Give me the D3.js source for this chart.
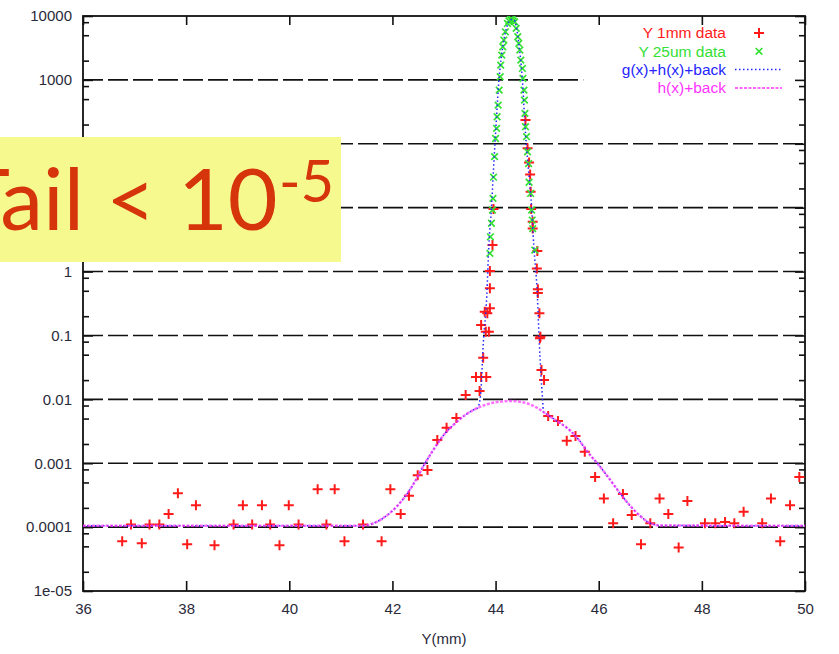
<!DOCTYPE html>
<meta charset="utf-8">
<style>
body { margin: 0; background: #fff; }
svg text { font-family: "Liberation Sans", Arial, sans-serif; }
.axis .domain { display: none; }
.axis line { stroke: #111; stroke-width: 1.6; }
.axis text { font-size: 15px; fill: #2a2a3a; }
</style>
<svg width="839" height="654"></svg>
<script src="https://d3js.org/d3.v7.min.js"></script>
<script>

// tick values and labels
var xTicks = [36, 38, 40, 42, 44, 46, 48, 50];
var yTicks = [1e-5, 1e-4, 1e-3, 1e-2, 1e-1, 1, 10, 100, 1000, 10000];
var yLabels = ["1e-05", "0.0001", "0.001", "0.01", "0.1", "1", "10", "100", "1000", "10000"];

// Y 1mm data (red +)
var redX = [36.76, 36.93, 37.14, 37.29, 37.48, 37.66, 37.84, 38.02, 38.19, 38.55, 38.92, 39.10, 39.28, 39.47, 39.63, 39.81, 39.99, 40.18,
  40.55, 40.72, 40.88, 41.07, 41.43, 41.79, 41.96, 42.16, 42.32, 42.49, 42.68, 42.87, 43.05, 43.24, 43.42, 43.62, 43.69, 43.72, 43.76,
  43.72, 43.79, 43.81, 43.82, 43.84, 43.87, 43.89, 43.89, 43.89, 43.94, 43.96,
  44.58, 44.62, 44.65, 44.67, 44.68, 44.69, 44.72, 44.72, 44.81, 44.80, 44.82, 44.82, 44.85, 44.87, 44.86, 44.89, 44.94,
  45.02, 45.21, 45.38, 45.55, 45.73, 45.93, 46.10, 46.28, 46.47, 46.64, 46.82, 47.00, 47.18, 47.35, 47.55, 47.72,
  48.06, 48.26, 48.45, 48.63, 48.81, 49.17, 49.34, 49.52, 49.71, 49.89];
var redY = [6.0e-5, 1.1e-4, 5.6e-5, 1.1e-4, 1.1e-4, 1.6e-4, 3.4e-4, 5.4e-5, 2.2e-4, 5.2e-5, 1.1e-4, 2.2e-4, 1.1e-4, 2.2e-4, 1.1e-4, 5.2e-5, 2.2e-4, 1.1e-4,
  3.9e-4, 1.1e-4, 3.9e-4, 6.0e-5, 1.1e-4, 6.0e-5, 3.9e-4, 1.6e-4, 3.1e-4, 6.5e-4, 7.8e-4, 2.3e-3, 3.6e-3, 5.1e-3, 0.0117, 0.0223, 0.0135, 0.0223, 0.0448,
  0.146, 0.235, 0.114, 0.0223, 0.222, 0.114, 0.266, 0.546, 1.02, 2.6, 9.5,
  235, 85, 51, 33, 17.7, 9.5, 6.0, 4.7, 2.1, 1.12, 0.53, 0.46, 0.222, 0.095, 0.09, 0.0288, 0.020,
  5.5e-3, 4.6e-3, 2.25e-3, 2.67e-3, 1.51e-3, 6.1e-4, 2.8e-4, 1.15e-4, 3.3e-4, 1.55e-4, 5.4e-5, 1.15e-4, 2.8e-4, 1.6e-4, 4.8e-5, 2.56e-4,
  1.15e-4, 1.15e-4, 1.2e-4, 1.15e-4, 1.74e-4, 1.15e-4, 2.8e-4, 6.0e-5, 2.2e-4, 6.1e-4];

// Y 25um data (green x)
var greenX = [43.89, 43.90, 43.92, 43.94, 43.95, 43.96, 43.98, 44.00, 44.02, 44.03, 44.05, 44.07, 44.09, 44.10, 44.12, 44.14, 44.16, 44.19, 44.23, 44.26, 44.29,
  44.32, 44.34, 44.37, 44.40, 44.43, 44.45, 44.47, 44.49, 44.52, 44.53, 44.55, 44.56, 44.57, 44.58, 44.60, 44.62, 44.64, 44.65, 44.68, 44.70, 44.71, 44.72, 44.76];
var greenY = [1.93, 3.5, 5.7, 9.2, 14, 30, 63, 121, 174, 265, 403, 692, 1120, 1700, 2440, 3300, 4200, 5660, 7650, 8400, 8800,
  8800, 8400, 8100, 6400, 4730, 3720, 2930, 2040, 1510, 1055, 692, 483, 299, 185, 129, 75, 49, 25, 16.7, 9.2, 6.4, 4.7, 2.17];

// h(x)+back (magenta)
var hX = [36.0, 41.4, 41.6, 41.8, 42.0, 42.2, 42.4, 42.6, 42.8, 43.0, 43.2, 43.4, 43.6, 43.8, 44.0, 44.3, 44.6, 44.8, 45.0, 45.2, 45.4,
  45.6, 45.8, 46.0, 46.2, 46.4, 46.6, 46.8, 47.0, 47.2, 50.0];
var hY = [1.05e-4, 1.05e-4, 1.12e-4, 1.35e-4, 1.8e-4, 2.7e-4, 4.6e-4, 9.0e-4, 1.65e-3, 2.8e-3, 4.1e-3, 5.6e-3, 7.0e-3, 8.2e-3, 9.0e-3, 9.4e-3, 8.7e-3, 7.4e-3, 5.8e-3, 4.5e-3, 3.5e-3,
  2.4e-3, 1.45e-3, 9.4e-4, 5.8e-4, 3.5e-4, 2.2e-4, 1.5e-4, 1.15e-4, 1.06e-4, 1.05e-4];

// g(x)+h(x)+back (blue)
var gX = [36.0, 41.4, 41.6, 41.8, 42.0, 42.2, 42.4, 42.6, 42.8, 43.0, 43.2, 43.4, 43.6, 43.65, 43.71, 43.76, 43.83, 43.87, 43.92, 43.96, 44.00,
  44.06, 44.15, 44.23, 44.30, 44.36, 44.45, 44.52, 44.58, 44.65, 44.70, 44.74, 44.81, 44.85, 44.91, 44.93, 45.0, 45.2, 45.4,
  45.6, 45.8, 46.0, 46.2, 46.4, 46.6, 46.8, 47.0, 47.2, 50.0];
var gY = [1.05e-4, 1.05e-4, 1.12e-4, 1.35e-4, 1.8e-4, 2.7e-4, 4.6e-4, 9.0e-4, 1.65e-3, 2.8e-3, 4.1e-3, 5.6e-3, 7.0e-3, 7.3e-3, 0.0117, 0.071, 0.43, 2.6, 9.9, 40, 146,
  880, 3720, 7200, 8800, 8600, 3720, 990, 146, 30, 9.75, 2.6, 0.43, 0.071, 0.0104, 6.3e-3, 5.8e-3, 4.5e-3, 3.5e-3,
  2.4e-3, 1.45e-3, 9.4e-4, 5.8e-4, 3.5e-4, 2.2e-4, 1.5e-4, 1.15e-4, 1.06e-4, 1.05e-4];

var legendNames = ["Y 1mm data", "Y 25um data", "g(x)+h(x)+back", "h(x)+back"];
var legendColors = ["#ff1a1a", "#33e033", "#2424ff", "#ff33ff"];

var svg = d3.select("svg"),
    margin = {top: 16, right: 34, bottom: 63, left: 83},
    width = +svg.attr("width") - margin.left - margin.right,
    height = +svg.attr("height") - margin.top - margin.bottom,
    g = svg.append("g").attr("transform", "translate(" + margin.left + "," + margin.top + ")");

var x = d3.scaleLinear().domain([36, 50]).range([0, width]);
var y = d3.scaleLog().domain([1e-5, 1e4]).range([height, 0]);

var minor = [];
yTicks.slice(0, -1).forEach(function(d) { [2, 5, 8].forEach(function(m) { minor.push(d * m); }); });

svg.append("defs").append("clipPath").attr("id", "clip")
  .append("rect").attr("width", width).attr("height", height);

// grid (the 1000 line stops short of the legend)
g.append("g")
  .selectAll("line")
  .data(yTicks.slice(1, -1))
  .enter().append("line")
    .attr("x1", 0)
    .attr("x2", function(d) { return d === 1000 ? x(45.7) : width; })
    .attr("y1", function(d) { return y(d); })
    .attr("y2", function(d) { return y(d); })
    .attr("stroke", "#111")
    .attr("stroke-width", 1.6)
    .attr("stroke-dasharray", "20,5");

// axes
g.append("g").attr("class", "axis")
  .attr("transform", "translate(0," + height + ")")
  .call(d3.axisBottom(x).tickValues(xTicks).tickSize(-10).tickSizeOuter(0).tickPadding(12));
g.append("g").attr("class", "axis")
  .call(d3.axisTop(x).tickValues(xTicks).tickSize(-9).tickSizeOuter(0).tickFormat(""));
g.append("g").attr("class", "axis")
  .call(d3.axisLeft(y).tickValues(yTicks).tickSize(-10).tickSizeOuter(0).tickPadding(11)
    .tickFormat(function(d, i) { return yLabels[i]; }));
g.append("g").attr("class", "axis")
  .call(d3.axisLeft(y).tickValues(minor).tickSize(-6).tickSizeOuter(0).tickFormat(""));
g.append("g").attr("class", "axis")
  .attr("transform", "translate(" + width + ",0)")
  .call(d3.axisRight(y).tickValues(yTicks).tickSize(-10).tickSizeOuter(0).tickFormat(""));
g.append("g").attr("class", "axis")
  .attr("transform", "translate(" + width + ",0)")
  .call(d3.axisRight(y).tickValues(minor).tickSize(-6).tickSizeOuter(0).tickFormat(""));

g.append("rect")
  .attr("width", width).attr("height", height)
  .attr("fill", "none").attr("stroke", "#111").attr("stroke-width", 1.8);

g.append("text")
  .attr("x", width / 2).attr("y", height + 53)
  .attr("text-anchor", "middle")
  .attr("font-size", 15).attr("fill", "#2a2a3a")
  .text("Y(mm)");

var plot = g.append("g").attr("clip-path", "url(#clip)");

var plus = "M-5,0H5M0,-5V5",
    cross = "M-3.3,-3.3L3.3,3.3M-3.3,3.3L3.3,-3.3";

plot.append("g")
  .selectAll("path")
  .data(redX.map(function(d, i) { return [d, redY[i]]; }))
  .enter().append("path")
    .attr("transform", function(d) { return "translate(" + x(d[0]) + "," + y(d[1]) + ")"; })
    .attr("d", plus)
    .attr("stroke", legendColors[0])
    .attr("stroke-width", 2);

plot.append("g")
  .selectAll("path")
  .data(greenX.map(function(d, i) { return [d, greenY[i]]; }))
  .enter().append("path")
    .attr("transform", function(d) { return "translate(" + x(d[0]) + "," + y(d[1]) + ")"; })
    .attr("d", cross)
    .attr("stroke", legendColors[1])
    .attr("stroke-width", 1.7);

var line = d3.line()
  .x(function(d) { return x(d[0]); })
  .y(function(d) { return y(d[1]); })
  .curve(d3.curveMonotoneX);

plot.append("path")
  .datum(gX.map(function(d, i) { return [d, gY[i]]; }))
  .attr("d", line)
  .attr("fill", "none")
  .attr("stroke", legendColors[2])
  .attr("stroke-width", 1.5)
  .attr("stroke-dasharray", "1.5,2.5");

plot.append("path")
  .datum(hX.map(function(d, i) { return [d, hY[i]]; }))
  .attr("d", line)
  .attr("fill", "none")
  .attr("stroke", legendColors[3])
  .attr("stroke-opacity", 0.7)
  .attr("stroke-width", 2.5)
  .attr("stroke-dasharray", "3,1.5");

// legend
var legend = svg.append("g");
legendNames.forEach(function(name, i) {
  var ly = 33 + i * 18.3;
  legend.append("text")
    .attr("x", 726).attr("y", ly).attr("dy", "0.35em")
    .attr("text-anchor", "end")
    .attr("font-size", 15.5)
    .attr("fill", legendColors[i])
    .text(name);
  if (i < 2) {
    legend.append("path")
      .attr("transform", "translate(759," + ly + ")")
      .attr("d", i === 0 ? plus : cross)
      .attr("stroke", legendColors[i])
      .attr("stroke-width", i === 0 ? 2 : 1.7);
  } else {
    legend.append("line")
      .attr("x1", 735).attr("x2", 782).attr("y1", ly).attr("y2", ly)
      .attr("stroke", legendColors[i])
      .attr("stroke-width", 1.5)
      .attr("stroke-dasharray", i === 2 ? "1.5,2.5" : "3,1.5");
  }
});

// yellow note over the plot
var note = svg.append("g");
note.append("rect")
  .attr("x", 0).attr("y", 137).attr("width", 341).attr("height", 125)
  .attr("fill", "#f6fa8e");
var tail = note.append("text")
  .attr("y", 230)
  .attr("fill", "#d6340b")
  .style("font-family", "Lato, 'Gill Sans', sans-serif");
tail.append("tspan").attr("x", 84).attr("text-anchor", "end").attr("font-size", 86).text("Tail");
tail.append("tspan").attr("x", 106).attr("font-size", 86).text("< 10");
tail.append("tspan").attr("x", 279).attr("y", 202).attr("font-size", 58).text("-5");

</script>
